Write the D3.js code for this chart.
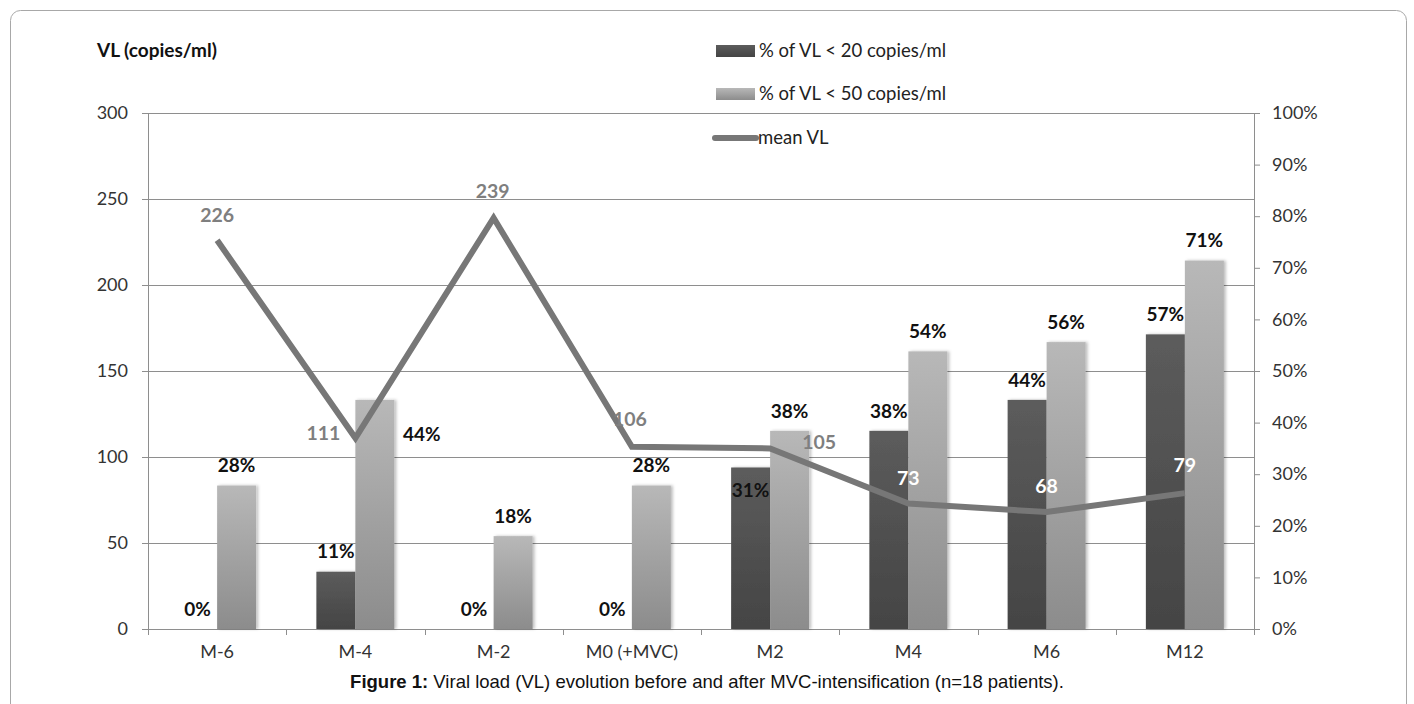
<!DOCTYPE html>
<html>
<head>
<meta charset="utf-8">
<script src="https://cdn.jsdelivr.net/npm/d3@7"></script>
<style>
  body { margin: 0; background: #fff; }
  text { font-family: Lato, "Open Sans", sans-serif; }
</style>
</head>
<body>
<div id="chart"></div>
<script>
// chart values
var categories = ["M-6", "M-4", "M-2", "M0 (+MVC)", "M2", "M4", "M6", "M12"];
var pctBelow20 = [0, 11.1, 0, 0, 31.3, 38.4, 44.4, 57.1];
var pctBelow50 = [27.8, 44.4, 18, 27.8, 38.4, 53.8, 55.6, 71.4];
var meanVL = [226, 111, 239, 106, 105, 73, 68, 79];
var leftTicks = [0, 50, 100, 150, 200, 250, 300];
var rightTicks = [0, 10, 20, 30, 40, 50, 60, 70, 80, 90, 100];
var seriesNames = ["% of VL < 20 copies/ml", "% of VL < 50 copies/ml", "mean VL"];

// label nudges (px) for labels moved by hand in the original
var vlLabelShift = [[0, -25], [-32, -5], [-1, -27], [-2, -28], [49, -6], [0, -25], [0, -26], [0, -28]];
var vlLabelWhite = [false, false, false, false, false, true, true, true];

var W = 1414, H = 704;
var margin = { top: 113, right: 160, bottom: 75, left: 148 };
var plotW = W - margin.left - margin.right,
  plotH = H - margin.top - margin.bottom;

var svg = d3.select("#chart").append("svg")
  .attr("width", W)
  .attr("height", H);

var defs = svg.append("defs");
function grad(id, top, bottom) {
  var g = defs.append("linearGradient").attr("id", id)
    .attr("x1", 0).attr("y1", 0).attr("x2", 0).attr("y2", 1);
  g.append("stop").attr("offset", "0%").attr("stop-color", top);
  g.append("stop").attr("offset", "100%").attr("stop-color", bottom);
}
grad("gDark", "#5c5c5c", "#444444");
grad("gLight", "#b8b8b8", "#8c8c8c");
var sh = defs.append("filter").attr("id", "shadow")
  .attr("x", "-20%").attr("y", "-5%").attr("width", "150%").attr("height", "110%");
sh.append("feDropShadow").attr("dx", 2).attr("dy", 0).attr("stdDeviation", 1.5)
  .attr("flood-color", "#000").attr("flood-opacity", 0.25);

// outer frame
svg.append("rect")
  .attr("x", 10.5).attr("y", 10.5)
  .attr("width", 1396).attr("height", 740)
  .attr("rx", 10)
  .attr("fill", "none")
  .attr("stroke", "#a8a8a8")
  .attr("stroke-width", 1);

var g = svg.append("g")
  .attr("transform", "translate(" + margin.left + "," + margin.top + ")");

var x = d3.scaleBand().domain(categories).range([0, plotW]);
var xSub = d3.scaleBand().domain([0, 1])
  .range([x.bandwidth() / 2 - 39, x.bandwidth() / 2 + 39]);
var yL = d3.scaleLinear().domain([0, 300]).range([plotH, 0]);
var yR = d3.scaleLinear().domain([0, 100]).range([plotH, 0]);

// gridlines
g.selectAll(".grid").data(leftTicks.slice(1)).enter().append("line")
  .attr("x1", 0).attr("x2", plotW)
  .attr("y1", function (d) { return Math.round(yL(d)) + 0.5; })
  .attr("y2", function (d) { return Math.round(yL(d)) + 0.5; })
  .attr("stroke", "#8e8e8e");

// left axis
var axL = g.append("g")
  .call(d3.axisLeft(yL).tickValues(leftTicks).tickSize(6).tickPadding(14));
axL.select(".domain").attr("stroke", "#8e8e8e");
axL.selectAll("line").attr("stroke", "#8e8e8e");
axL.selectAll("text").attr("font-size", "18px").attr("fill", "#333")
  .style("font-family", "Lato, sans-serif");

// right axis
var axR = g.append("g")
  .attr("transform", "translate(" + plotW + ",0)")
  .call(d3.axisRight(yR).tickValues(rightTicks).tickSize(6).tickPadding(12)
    .tickFormat(function (d) { return d + "%"; }));
axR.select(".domain").attr("stroke", "#8e8e8e");
axR.selectAll("line").attr("stroke", "#8e8e8e");
axR.selectAll("text").attr("font-size", "18px").attr("fill", "#333")
  .style("font-family", "Lato, sans-serif");

// bottom axis
var axB = g.append("g")
  .attr("transform", "translate(0," + plotH + ")")
  .call(d3.axisBottom(x).tickSize(0).tickPadding(16));
axB.select(".domain").attr("stroke", "#8e8e8e");
axB.selectAll("text").attr("font-size", "18px").attr("fill", "#333")
  .style("font-family", "Lato, sans-serif");
g.selectAll(".catTick").data(d3.range(categories.length + 1)).enter().append("line")
  .attr("x1", function (i) { return Math.round(i * x.step()) + 0.5; })
  .attr("x2", function (i) { return Math.round(i * x.step()) + 0.5; })
  .attr("y1", plotH).attr("y2", plotH + 6)
  .attr("stroke", "#8e8e8e");

// bars
var series = [pctBelow20, pctBelow50];
var fills = ["url(#gDark)", "url(#gLight)"];
series.forEach(function (vals, s) {
  g.selectAll(".bar" + s).data(vals).enter().append("rect")
    .attr("x", function (d, i) { return x(categories[i]) + xSub(s); })
    .attr("y", function (d) { return yR(d); })
    .attr("width", xSub.bandwidth())
    .attr("height", function (d) { return plotH - yR(d); })
    .attr("fill", fills[s])
    .attr("filter", "url(#shadow)");
});

// bar labels
series.forEach(function (vals, s) {
  g.selectAll(".lab" + s).data(vals).enter().append("text")
    .attr("x", function (d, i) {
      var cx = x(categories[i]) + xSub(s) + xSub.bandwidth() / 2;
      if (s === 1 && i === 1) cx += 47;
      return cx;
    })
    .attr("y", function (d, i) {
      var top = yR(d);
      if (s === 0 && i === 4) return top + 23;
      if (s === 1 && i === 1) return top + 34;
      return top - 20;
    })
    .attr("dy", "0.35em")
    .attr("text-anchor", "middle")
    .attr("font-size", "19px")
    .attr("font-weight", "bold")
    .attr("fill", "#111")
    .text(function (d) { return Math.round(d) + "%"; });
});

// mean VL line
var line = d3.line()
  .x(function (d, i) { return x(categories[i]) + x.bandwidth() / 2; })
  .y(function (d) { return yL(d); });
g.append("path")
  .datum(meanVL)
  .attr("d", line)
  .attr("fill", "none")
  .attr("stroke", "#777777")
  .attr("stroke-width", 6)
  .attr("stroke-linejoin", "miter")
  .attr("stroke-miterlimit", 10);

g.selectAll(".vlLab").data(meanVL).enter().append("text")
  .attr("x", function (d, i) { return x(categories[i]) + x.bandwidth() / 2 + vlLabelShift[i][0]; })
  .attr("y", function (d, i) { return yL(d) + vlLabelShift[i][1]; })
  .attr("dy", "0.35em")
  .attr("text-anchor", "middle")
  .attr("font-size", "19.5px")
  .attr("font-weight", "bold")
  .attr("fill", function (d, i) { return vlLabelWhite[i] ? "#ffffff" : "#7f7f7f"; })
  .text(function (d) { return d; });

// axis title
svg.append("text")
  .attr("x", 97).attr("y", 50)
  .attr("dy", "0.35em")
  .attr("font-size", "19px")
  .attr("font-weight", "bold")
  .attr("fill", "#111")
  .text("VL (copies/ml)");

// legend
var legend = svg.append("g").attr("transform", "translate(716,0)");
var legY = [51, 94, 138];
legend.append("rect").attr("x", 0).attr("y", legY[0] - 6).attr("width", 39).attr("height", 12)
  .attr("fill", "url(#gDark)");
legend.append("rect").attr("x", 0).attr("y", legY[1] - 6).attr("width", 39).attr("height", 12)
  .attr("fill", "url(#gLight)");
legend.append("line").attr("x1", -1).attr("x2", 40).attr("y1", legY[2]).attr("y2", legY[2])
  .attr("stroke", "#777777").attr("stroke-width", 6).attr("stroke-linecap", "round");
legend.selectAll(".legText").data(seriesNames).enter().append("text")
  .attr("x", function (d, i) { return i === 2 ? 42 : 43; })
  .attr("y", function (d, i) { return legY[i]; })
  .attr("dy", "0.35em")
  .attr("font-size", "18.5px")
  .attr("fill", "#222")
  .text(function (d) { return d; });

// caption
var cap = svg.append("text")
  .attr("x", 707).attr("y", 682)
  .attr("dy", "0.35em")
  .attr("text-anchor", "middle")
  .attr("font-size", "18.5px")
  .attr("fill", "#111")
  .style("font-family", "'Liberation Sans', Arial, sans-serif");
cap.append("tspan").attr("font-weight", "bold").text("Figure 1:");
cap.append("tspan").text(" Viral load (VL) evolution before and after MVC-intensification (n=18 patients).");
</script>
</body>
</html>
